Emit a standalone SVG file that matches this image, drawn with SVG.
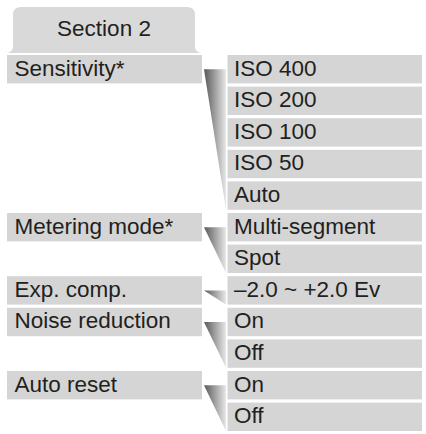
<svg xmlns="http://www.w3.org/2000/svg" width="426" height="434" viewBox="0 0 426 434">
<style>
.bar{fill:#d5d5d5}
.tab{fill:#d9d9d9}
.t{font-family:"Liberation Sans",Arial,sans-serif;font-size:22.5px;fill:#231f20}
.w{fill:url(#wg)}
</style>
<defs>
<linearGradient id="wg" x1="0" y1="0" x2="1" y2="0">
<stop offset="0" stop-color="#575757"/>
<stop offset="1" stop-color="#e8e8e8"/>
</linearGradient>
</defs>
<rect width="426" height="434" fill="#ffffff"/>
<g id="section-tab">
<path class="tab" d="M7,53 Q13,52 13,46 L13,15 Q13,7 21,7 L187,7 Q195,7 195,15 L195,46 Q195,52 201,53 Z"/>
<text class="t" x="104" y="36" text-anchor="middle">Section 2</text>
</g>
<g id="connectors">
<polygon class="w" points="204,69.2 226,69.2 226,209.8"/>
<polygon class="w" points="204,227.2 226,227.2 226,273"/>
<polygon class="w" points="204,290.4 226,290.4 226,304.6"/>
<polygon class="w" points="204,322 226,322 226,367.8"/>
<polygon class="w" points="204,385.2 226,385.2 226,431"/>
</g>
<g id="sensitivity"><rect class="bar" x="7" y="55" width="195" height="28.4"/><text class="t" x="14.5" y="75.5">Sensitivity*</text></g>
<g id="metering-mode"><rect class="bar" x="7" y="213" width="195" height="28.4"/><text class="t" x="14.5" y="233.5">Metering mode*</text></g>
<g id="exp-comp"><rect class="bar" x="7" y="276.2" width="195" height="28.4"/><text class="t" x="14.5" y="296.7">Exp. comp.</text></g>
<g id="noise-reduction"><rect class="bar" x="7" y="307.8" width="195" height="28.4"/><text class="t" x="14.5" y="328.3">Noise reduction</text></g>
<g id="auto-reset"><rect class="bar" x="7" y="371" width="195" height="28.4"/><text class="t" x="14.5" y="391.5">Auto reset</text></g>
<g id="iso400"><rect class="bar" x="227.5" y="55" width="194.5" height="28.4"/><text class="t" x="234" y="75.5">ISO 400</text></g>
<g id="iso200"><rect class="bar" x="227.5" y="86.6" width="194.5" height="28.4"/><text class="t" x="234" y="107.1">ISO 200</text></g>
<g id="iso100"><rect class="bar" x="227.5" y="118.2" width="194.5" height="28.4"/><text class="t" x="234" y="138.7">ISO 100</text></g>
<g id="iso50"><rect class="bar" x="227.5" y="149.8" width="194.5" height="28.4"/><text class="t" x="234" y="170.3">ISO 50</text></g>
<g id="iso-auto"><rect class="bar" x="227.5" y="181.4" width="194.5" height="28.4"/><text class="t" x="234" y="201.9">Auto</text></g>
<g id="multi-segment"><rect class="bar" x="227.5" y="213" width="194.5" height="28.4"/><text class="t" x="234" y="233.5">Multi-segment</text></g>
<g id="spot"><rect class="bar" x="227.5" y="244.6" width="194.5" height="28.4"/><text class="t" x="234" y="265.1">Spot</text></g>
<g id="ev-range"><rect class="bar" x="227.5" y="276.2" width="194.5" height="28.4"/><text class="t" x="234" y="296.7">–2.0 ~ +2.0 Ev</text></g>
<g id="nr-on"><rect class="bar" x="227.5" y="307.8" width="194.5" height="28.4"/><text class="t" x="234" y="328.3">On</text></g>
<g id="nr-off"><rect class="bar" x="227.5" y="339.4" width="194.5" height="28.4"/><text class="t" x="234" y="359.9">Off</text></g>
<g id="ar-on"><rect class="bar" x="227.5" y="371" width="194.5" height="28.4"/><text class="t" x="234" y="391.5">On</text></g>
<g id="ar-off"><rect class="bar" x="227.5" y="402.6" width="194.5" height="28.4"/><text class="t" x="234" y="423.1">Off</text></g>
</svg>
